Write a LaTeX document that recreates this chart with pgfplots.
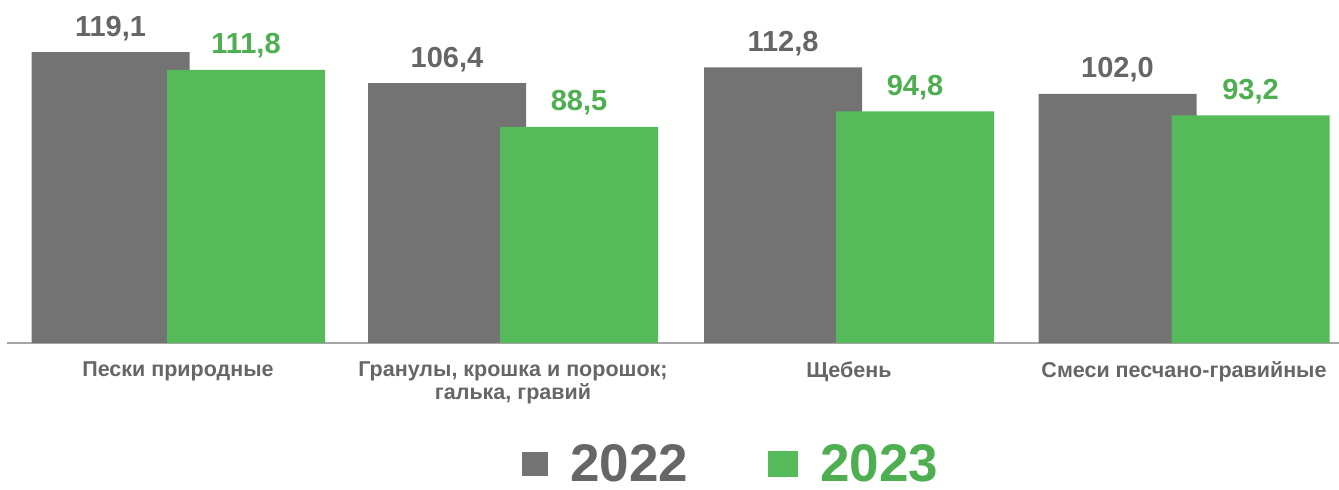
\documentclass[border=0pt]{standalone}
\usepackage{pgfplots}
\pgfplotsset{compat=1.18}
\usepackage{fontspec}
\setmainfont{Liberation Sans}
\definecolor{barGray}{HTML}{737373}
\definecolor{barGreen}{HTML}{55BA59}
\definecolor{txtGray}{HTML}{666666}
\definecolor{txtGreen}{HTML}{4DAF50}
\definecolor{axGray}{HTML}{A6A6A6}
\begin{document}
\begin{tikzpicture}
\path[use as bounding box] (0,0) rectangle (1339pt,490pt);
\begin{axis}[
  at={(7pt,147pt)}, anchor=south west,
  width=1332pt, height=343pt, scale only axis,
  xmin=7, xmax=1339, ymin=0, ymax=140.4,
  ybar=0pt, bar width=158,
  axis y line=none, axis x line*=bottom,
  x axis line style={draw=axGray, line width=1.5pt},
  xtick={178,513,849,1184},
  xticklabels={{Пески природные},{Гранулы, крошка и порошок;\\галька, гравий},{Щебень},{Смеси песчано-гравийные}},
  major tick length=0pt,
  xticklabel style={align=center, anchor=north, font=\fontsize{21.5}{23}\selectfont\bfseries, text=txtGray, yshift=-15pt},
  ytick=\empty,
  /pgf/number format/fixed, /pgf/number format/fixed zerofill,
  /pgf/number format/precision=1, /pgf/number format/use comma,
  /pgf/number format/assume math mode=true,
  legend style={at={(0.543,-0.414)}, anchor=south, draw=none, fill=none,
    legend columns=2, font=\fontsize{53}{53}\selectfont\bfseries,
    /tikz/every odd column/.append style={column sep=22pt},
    /tikz/every even column/.append style={column sep=80pt},
    nodes={inner sep=0pt}},
]
\addplot[fill=barGray, draw=none, /pgf/bar shift=0pt,
  nodes near coords,
  every node near coord/.append style={font=\fontsize{29}{29}\selectfont\bfseries, text=txtGray, anchor=base, yshift=16pt},
  legend image code/.code={\fill[barGray] (0pt,-12pt) rectangle (26pt,12pt);}]
  coordinates {(110.5,119.1) (447,106.4) (783,112.8) (1117.5,102.0)};
\addlegendentry{\textcolor{txtGray}{2022}}
\addplot[fill=barGreen, draw=none, /pgf/bar shift=0pt,
  nodes near coords,
  every node near coord/.append style={font=\fontsize{29}{29}\selectfont\bfseries, text=txtGreen, anchor=base, yshift=16pt},
  legend image code/.code={\fill[barGreen] (0pt,-13pt) rectangle (30pt,13pt);}]
  coordinates {(246,111.8) (579,88.5) (915,94.8) (1250.5,93.2)};
\addlegendentry{\textcolor{txtGreen}{2023}}
\end{axis}
\end{tikzpicture}
\end{document}
